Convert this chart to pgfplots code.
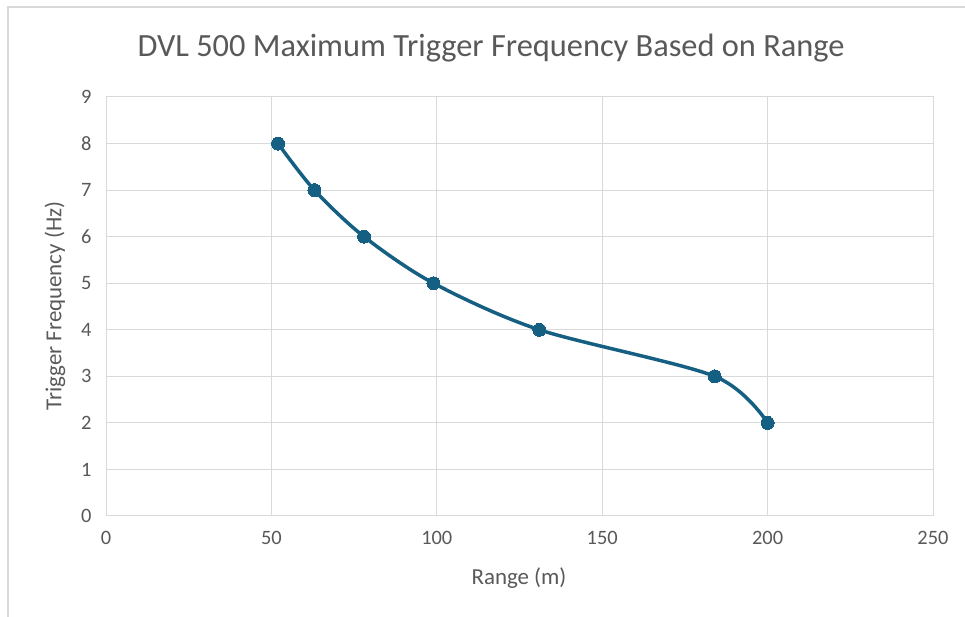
\documentclass[border=0pt]{standalone}
\usepackage{fontspec}
\setmainfont{Carlito}
\usepackage{pgfplots}
\pgfplotsset{compat=1.18}
\definecolor{linecol}{HTML}{156082}
\definecolor{gridcol}{HTML}{D9D9D9}
\definecolor{textcol}{HTML}{595959}
\begin{document}
\begin{tikzpicture}
\useasboundingbox (0bp,0bp) rectangle (965bp,617bp);
\fill[white] (0bp,0bp) rectangle (965bp,617bp);
\draw[gridcol, line width=1.5bp] (8bp,0bp) -- (8bp,610bp) -- (965bp,610bp);
\node[textcol, font=\fontsize{32.5}{38}\selectfont] at (491bp,569bp) {DVL 500 Maximum Trigger Frequency Based on Range};
\node[textcol, font=\fontsize{23}{27}\selectfont] at (519bp,39bp) {Range (m)};
\node[textcol, font=\fontsize{23}{27}\selectfont, rotate=90] at (55bp,311bp) {Trigger Frequency (Hz)};
\begin{axis}[
    at={(106bp,101bp)}, anchor=south west,
    scale only axis,
    width=827bp, height=419bp,
    xmin=0, xmax=250,
    ymin=0, ymax=9,
    xtick={0,50,100,150,200,250},
    ytick={0,1,2,3,4,5,6,7,8,9},
    major tick length=0pt,
    xmajorgrids=true, ymajorgrids=true,
    grid style={gridcol, line width=1bp},
    axis line style={gridcol, line width=1bp},
    /pgf/number format/assume math mode=true,
    ticklabel style={textcol, font=\fontsize{20.5}{24}\selectfont},
    yticklabel style={xshift=-11bp},
    xticklabel style={yshift=-12bp},
    clip=false,
]
\addplot[linecol, line width=3.5bp, smooth, mark=*, mark size=6.5bp,
    mark options={fill=linecol, draw=linecol, line width=0bp}]
    coordinates {(52,8)(63,7)(78,6)(99,5)(131,4)(184,3)(200,2)};
\end{axis}
\end{tikzpicture}
\end{document}
